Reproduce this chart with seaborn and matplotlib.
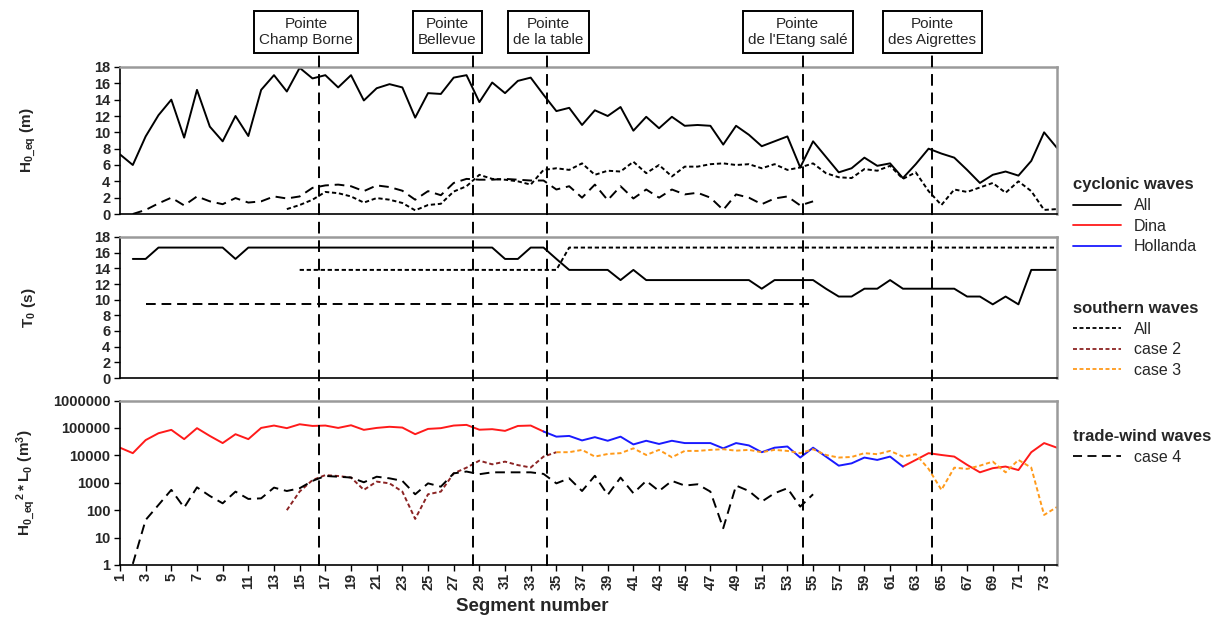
import numpy as np
import pandas as pd
import seaborn as sns
import matplotlib.pyplot as plt
from matplotlib.lines import Line2D
from matplotlib import transforms

nan = np.nan

# segment numbers
seg = np.arange(1, 75)

# H0_eq (m)
h_cyc_all = [7.3, 6.0, 9.5, 12.1, 14.0, 9.35, 15.2, 10.7, 8.9, 12.0, 9.55, 15.2, 17.0, 15.0, 17.9,
             16.6, 17.0, 15.5, 17.0, 13.9, 15.4, 15.9, 15.5, 11.8, 14.8, 14.7, 16.7, 17.0, 13.7, 16.1,
             14.8, 16.3, 16.7, 14.6, 12.6, 13.0, 10.9, 12.7, 12.0, 13.1, 10.2, 11.9, 10.5, 11.9, 10.8,
             10.9, 10.8, 8.5, 10.8, 9.7, 8.3, 8.9, 9.5, 5.7, 8.9, 7.0, 5.1, 5.6, 6.9, 5.9,
             6.2, 4.4, 6.1, 8.0, 7.4, 6.9, 5.4, 3.8, 4.8, 5.2, 4.7, 6.5, 10.0, 8.1]
h_south_all = [nan] * 13 + [0.6, 1.1, 1.75, 2.7, 2.55, 2.15, 1.4, 1.95, 1.75, 1.35, 0.45, 1.1, 1.25,
             2.75, 3.4, 4.8, 4.3, 4.2, 4.0, 3.6, 5.4, 5.6, 5.4, 6.2, 4.8, 5.3, 5.2, 6.4, 5.0, 6.0,
             4.6, 5.8, 5.8, 6.1, 6.2, 6.0, 6.1, 5.6, 6.1, 5.4, 5.7, 6.2, 5.0, 4.5, 4.4, 5.5, 5.3,
             5.9, 4.3, 5.1, 2.8, 1.1, 3.0, 2.7, 3.25, 3.8, 2.6, 4.0, 2.8, 0.5, 0.6]
h_case4 = [nan] + [0.0, 0.5, 1.3, 2.0, 1.05, 2.15, 1.55, 1.2, 1.95, 1.4, 1.55, 2.15, 1.9, 2.15, 3.2,
             3.5, 3.6, 3.4, 2.8, 3.5, 3.3, 2.85, 1.75, 2.8, 2.3, 3.8, 4.3, 4.2, 4.2, 4.3, 4.2, 4.1,
             4.1, 3.0, 3.4, 2.0, 3.6, 1.7, 3.4, 1.9, 3.0, 2.0, 3.0, 2.4, 2.6, 2.0, 0.5, 2.4, 2.0,
             1.2, 1.9, 2.15, 1.05, 1.55] + [nan] * 19

# T0 (s)
t_cyc_all = ([nan, 15.2, 15.2] + [16.65] * 6 + [15.2] + [16.65] * 20 + [15.2, 15.2, 16.65, 16.65, 15.2]
             + [13.8] * 4 + [12.5, 13.8] + [12.5] * 9 + [11.4] + [12.5] * 4 + [11.4, 10.4, 10.4, 11.4,
             11.4, 12.5] + [11.4] * 5 + [10.4, 10.4, 9.4, 10.4, 9.4] + [13.8] * 3)
t_south_all = [nan] * 14 + [13.8] * 21 + [16.65] * 39
t_case4 = [nan] * 2 + [9.4] * 53 + [nan] * 19

# H0_eq^2 * L0 (m3)
e_dina = [19000, 12000, 36000, 64000, 85000, 39000, 98000, 51000, 28000, 59000, 39000, 100000,
          122000, 98000, 136000, 118000, 122000, 100000, 125000, 85000, 100000, 110000, 103000,
          59000, 92000, 98000, 122000, 129000, 86000, 90000, 78000, 118000, 122000, 74000] \
         + [nan] * 27 + [3900, 6800, 12000, 10300, 9000, 4500, 2400, 3400, 3900, 2900, 13000, 28000, 19000]
e_hollanda = [nan] * 33 + [74000, 48000, 51000, 35000, 46000, 34000, 48000, 25000, 34000, 26000,
              34000, 28000, 28000, 28000, 18000, 28000, 23000, 13000, 19000, 21000, 8300, 19000,
              9000, 4200, 5100, 8300, 6800, 9000, 3900] + [nan] * 12
e_case2 = [nan] * 13 + [100, 480, 1250, 1900, 1760, 1550, 550, 1100, 950, 475, 48, 380, 475, 2200,
           3550, 6400, 4700, 5900, 4400, 3600, 9000, 13000] + [nan] * 39
e_case3 = [nan] * 34 + [13000, 13000, 15800, 9000, 11200, 12000, 18000, 10300, 15800, 8500, 14500,
           14500, 15800, 16700, 14800, 15800, 13000, 15800, 14500, 12000, 16700, 10300, 8300, 8700,
           12000, 11000, 14500, 9000, 11000, 3200, 550, 3550, 3200, 4200, 5900, 2400, 6800, 3550, 67, 130]
e_case4 = [nan] + [1.1, 44, 155, 550, 124, 680, 330, 178, 475, 257, 270, 665, 500, 630, 1170, 1770,
           1660, 1550, 1040, 1660, 1450, 1170, 380, 950, 720, 2200, 2560, 2050, 2400, 2400, 2400,
           2400, 2100, 950, 1450, 500, 1800, 360, 1540, 415, 1170, 500, 1170, 790, 880, 475, 22,
           790, 500, 205, 415, 630, 135, 380] + [nan] * 19

# capes along the coast
pointe_names = ["Pointe\nChamp Borne", "Pointe\nBellevue", "Pointe\nde la table",
                "Pointe\nde l'Etang salé", "Pointe\ndes Aigrettes"]
pointe_seg = [16.5, 28.5, 34.3, 54.2, 64.3]
pointe_label_seg = [15.5, 26.5, 34.4, 53.8, 64.3]

sns.set_theme(style="white")
plt.rcParams['font.family'] = ['Liberation Sans', 'DejaVu Sans']
plt.rcParams['mathtext.fontset'] = 'custom'
plt.rcParams['mathtext.rm'] = 'Liberation Sans'
plt.rcParams['mathtext.bf'] = 'Liberation Sans:bold'

C_DINA = '#ff1a1a'
C_HOL = '#1a1aff'
C_C2 = '#8b2323'
C_C3 = '#ff9a1a'
SOLID = '-'
DOT = (0, (2.2, 1.4))
DASH = (0, (5, 3))

fig = plt.figure(figsize=(12.28, 6.25), dpi=100)
ax1 = fig.add_axes([0.0977, 0.6576, 0.7630, 0.2352])
ax2 = fig.add_axes([0.0977, 0.3952, 0.7630, 0.2256])
ax3 = fig.add_axes([0.0977, 0.0960, 0.7630, 0.2632])


def draw(ax, values, color, ls, lw=1.4):
    s = pd.Series(values, index=seg, dtype=float)
    ok = s.notna()
    groups = (~ok).cumsum()[ok]
    for _, part in s[ok].groupby(groups):
        sns.lineplot(x=part.index.values, y=part.values, ax=ax, color=color,
                     linestyle=ls, lw=lw, errorbar=None)


draw(ax1, h_cyc_all, 'black', SOLID)
draw(ax1, h_south_all, 'black', DOT)
draw(ax1, h_case4, 'black', DASH)

draw(ax2, t_cyc_all, 'black', SOLID)
draw(ax2, t_south_all, 'black', DOT)
draw(ax2, t_case4, 'black', DASH)

draw(ax3, e_dina, C_DINA, SOLID)
draw(ax3, e_hollanda, C_HOL, SOLID)
draw(ax3, e_case2, C_C2, DOT)
draw(ax3, e_case3, C_C3, DOT)
draw(ax3, e_case4, 'black', DASH)

tick_font = dict(fontsize=10.5, fontweight='bold')
for ax in (ax1, ax2, ax3):
    ax.set_xlim(1, 74)
    for side in ('top', 'right'):
        ax.spines[side].set_color('#9a9a9a')
        ax.spines[side].set_linewidth(1.8)
    for side in ('left', 'bottom'):
        ax.spines[side].set_color('black')
        ax.spines[side].set_linewidth(1.2)
    ax.tick_params(axis='y', left=True, direction='out', length=4, width=1, color='black', pad=3)
    ax.yaxis.set_label_coords(-0.088, 0.5)

for ax in (ax1, ax2):
    ax.set_ylim(0, 18)
    ax.set_yticks(np.arange(0, 19, 2))
    ax.set_yticklabels([str(v) for v in range(0, 19, 2)], **tick_font)
    ax.set_xticks([])
    ax.set_xlabel('')

ax1.set_ylabel(r'$\mathbf{H_{0\_eq}\ (m)}$', fontsize=11)
ax2.set_ylabel(r'$\mathbf{T_{0}\ (s)}$', fontsize=11)

ax3.set_yscale('log')
ax3.set_ylim(1, 1e6)
ticks3 = [1, 10, 100, 1000, 10000, 100000, 1000000]
ax3.set_yticks(ticks3)
ax3.set_yticklabels([str(v) for v in ticks3], **tick_font)
ax3.minorticks_off()
ax3.set_ylabel(r'$\mathbf{H_{0\_eq}{}^{2}*L_{0}\ (m^{3})}$', fontsize=11)
xt = np.arange(1, 74, 2)
ax3.set_xticks(xt)
ax3.set_xticklabels([str(v) for v in xt], rotation=90, **tick_font)
ax3.tick_params(axis='x', bottom=True, direction='out', length=4, width=1, color='black', pad=2)
ax3.set_xlabel('Segment number', fontsize=13.5, fontweight='bold')
ax3.xaxis.set_label_coords(0.44, -0.2)

# cape markers: dashed verticals running through all panels and labelled boxes
for xs, xl, name in zip(pointe_seg, pointe_label_seg, pointe_names):
    tr = transforms.blended_transform_factory(ax1.transData, fig.transFigure)
    fig.add_artist(Line2D([xs, xs], [0.094, 0.912], transform=tr, color='black',
                          lw=1.4, linestyle=(0, (6, 3.5)), zorder=5))
    fig.text(xl, 0.949, name, transform=tr, ha='center', va='center', fontsize=11,
             family=['Liberation Sans Narrow', 'Liberation Sans', 'DejaVu Sans'],
             linespacing=1.25,
             bbox=dict(boxstyle='square,pad=0.35', facecolor='white', edgecolor='black', lw=1.4))

# legends
leg_groups = [
    ('cyclonic waves', [('All', 'black', SOLID), ('Dina', C_DINA, SOLID), ('Hollanda', C_HOL, SOLID)], 0.716),
    ('southern waves', [('All', 'black', DOT), ('case 2', C_C2, DOT), ('case 3', C_C3, DOT)], 0.518),
    ('trade-wind waves', [('case 4', 'black', DASH)], 0.313),
]
for title, items, ytop in leg_groups:
    handles = [Line2D([], [], color=c, linestyle=ls, lw=1.3) for _, c, ls in items]
    labels = [lab for lab, _, _ in items]
    fig.legend(handles, labels, title=title, loc='upper left', bbox_to_anchor=(0.874, ytop),
               frameon=False, alignment='left', fontsize=11.5, handlelength=3.0,
               handletextpad=0.8, labelspacing=0.35, borderaxespad=0, borderpad=0,
               title_fontproperties={'weight': 'bold', 'size': 12})

fig.savefig('out.png', dpi=100)
